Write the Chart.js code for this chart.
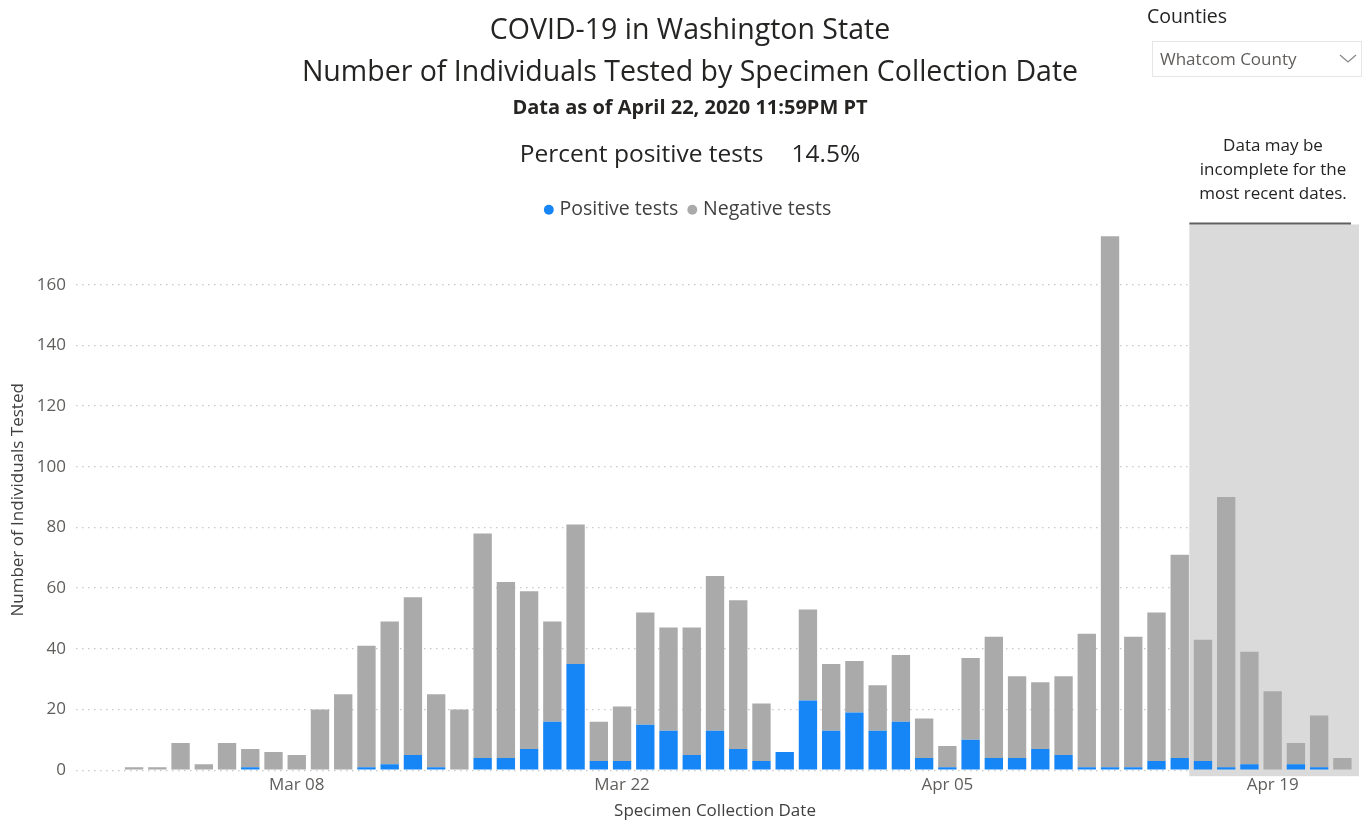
<!DOCTYPE html>
<html>
<head>
<meta charset="utf-8">
<script src="https://cdn.jsdelivr.net/npm/chart.js@4/dist/chart.umd.min.js"></script>
<style>
    body{
        margin:0;
        background:#ffffff;
        font-family:"Open Sans","Noto Sans",sans-serif;
        color:#252423;
    }
    #wrap{
        position:relative;
        width:1365px;
        height:825px;
    }
    #graficoTests{
        position:absolute;
        left:0;
        top:0;
    }
    .txt{
        position:absolute;
        white-space:nowrap;
    }
    .centro{
        left:190px;
        width:1000px;
        text-align:center;
    }
    #titulo1{ top:10px; font-size:28.5px; line-height:36px; }
    #titulo2{ top:52px; font-size:28.5px; line-height:36px; }
    #fecha{ top:94px; font-size:20px; line-height:26px; font-weight:700; }
    #porcentaje{ top:137px; font-size:24.5px; line-height:32px; }
    #porcentaje span{ margin-left:28px; }
    #condados{ left:1147px; top:3px; font-size:19.5px; line-height:26px; }
    #selector{
        position:absolute;
        left:1152px;
        top:41px;
        width:210px;
        height:36px;
        border:1px solid #e6e6e6;
        box-sizing:border-box;
    }
    #selector .txt{ left:7px; top:5px; font-size:17px; line-height:24px; color:#605e5c; }
    #selector svg{ position:absolute; right:4px; top:11px; }
    #aviso{
        left:1173px;
        width:200px;
        top:133px;
        font-size:17px;
        line-height:24px;
        text-align:center;
        color:#252423;
    }
</style>
</head>
<body>
<div id="wrap">
    <canvas id="graficoTests" width="1365" height="825"></canvas>

    <div class="txt centro" id="titulo1">COVID-19 in Washington State</div>
    <div class="txt centro" id="titulo2">Number of Individuals Tested by Specimen Collection Date</div>
    <div class="txt centro" id="fecha">Data as of April 22, 2020 11:59PM PT</div>
    <div class="txt centro" id="porcentaje">Percent positive tests<span>14.5%</span></div>

    <div class="txt" id="condados">Counties</div>
    <div id="selector">
        <div class="txt">Whatcom County</div>
        <svg width="18" height="12" viewBox="0 0 18 12"><polyline points="1,2 9,9 17,2" fill="none" stroke="#8a8886" stroke-width="1.3"/></svg>
    </div>

    <div class="txt" id="aviso">Data may be<br>incomplete for the<br>most recent dates.</div>
</div>

<script>

// Data

const fechas = [
    "Feb 28","Feb 29",
    "Mar 01","Mar 02","Mar 03","Mar 04","Mar 05","Mar 06","Mar 07","Mar 08","Mar 09","Mar 10",
    "Mar 11","Mar 12","Mar 13","Mar 14","Mar 15","Mar 16","Mar 17","Mar 18","Mar 19","Mar 20",
    "Mar 21","Mar 22","Mar 23","Mar 24","Mar 25","Mar 26","Mar 27","Mar 28","Mar 29","Mar 30","Mar 31",
    "Apr 01","Apr 02","Apr 03","Apr 04","Apr 05","Apr 06","Apr 07","Apr 08","Apr 09","Apr 10",
    "Apr 11","Apr 12","Apr 13","Apr 14","Apr 15","Apr 16","Apr 17","Apr 18","Apr 19","Apr 20",
    "Apr 21","Apr 22"
];

const positivos = [
    null,null,
    0,0,0,0,0,1,0,0,0,0,
    1,2,5,1,0,4,4,7,16,35,
    3,3,15,13,5,13,7,3,6,23,13,
    19,13,16,4,1,10,4,4,7,5,
    1,1,1,3,4,3,1,2,0,2,
    1,0
];

const negativos = [
    null,null,
    1,1,9,2,9,6,6,5,20,25,
    40,47,52,24,20,74,58,52,33,46,
    13,18,37,34,42,51,49,19,0,30,22,
    17,15,22,13,7,27,40,27,22,26,
    44,175,43,49,67,40,89,37,26,7,
    17,4
];

const etiquetasX = ["Mar 08","Mar 22","Apr 05","Apr 19"];

const etiquetasY = [0,20,40,60,80,100,120,140,160];

// first date of the "data may be incomplete" band
const incompletoDesde = "Apr 16";

const fuente = "'Open Sans','Noto Sans',sans-serif";


// Shaded band behind the latest dates

const bandaIncompleta = {

    id:"bandaIncompleta",

    beforeDatasetsDraw(chart){

        const {ctx, chartArea, scales} = chart;

        const x = scales.x;

        const i = fechas.indexOf(incompletoDesde);

        const paso = x.getPixelForValue(1) - x.getPixelForValue(0);

        const izq = x.getPixelForValue(i) - paso / 2 - 2;

        const der = chartArea.right + 5;

        const arriba = chartArea.top - 5;

        const abajo = chartArea.bottom + 6;

        ctx.save();

        ctx.fillStyle = "#dadada";
        ctx.fillRect(izq, arriba, der - izq, abajo - arriba);

        ctx.strokeStyle = "#5f5f5f";
        ctx.lineWidth = 2;
        ctx.beginPath();
        ctx.moveTo(izq, arriba - 1);
        ctx.lineTo(der - 8, arriba - 1);
        ctx.stroke();

        ctx.restore();

    }

};


// Chart

const ctx = document.getElementById("graficoTests");

new Chart(ctx,{

    type:"bar",

    data:{

        labels:fechas,

        datasets:[
            {
                label:"Positive tests",
                data:positivos,
                backgroundColor:"#1685f6",
                barPercentage:0.79,
                categoryPercentage:1
            },
            {
                label:"Negative tests",
                data:negativos,
                backgroundColor:"#aaaaaa",
                barPercentage:0.79,
                categoryPercentage:1
            }
        ]

    },

    plugins:[bandaIncompleta],

    options:{

        responsive:false,

        animation:false,

        layout:{
            padding:{
                top:187,
                right:11,
                bottom:0,
                left:25
            }
        },

        plugins:{

            legend:{

                position:"top",

                labels:{
                    usePointStyle:true,
                    pointStyle:"circle",
                    boxWidth:2,
                    boxHeight:7,
                    padding:13,
                    color:"#404040",
                    font:{
                        family:fuente,
                        size:19.5
                    }
                }

            },

            tooltip:{
                enabled:false
            }

        },

        scales:{

            x:{

                stacked:true,

                grid:{
                    display:false,
                    drawTicks:false
                },

                border:{
                    display:false
                },

                ticks:{
                    autoSkip:false,
                    maxRotation:0,
                    padding:5,
                    color:"#605e5c",
                    font:{
                        family:fuente,
                        size:17
                    },
                    callback:function(v){

                        const l = this.getLabelForValue(v);

                        return etiquetasX.includes(l) ? l : "";

                    }
                },

                title:{
                    display:true,
                    text:"Specimen Collection Date",
                    color:"#404040",
                    padding:{ top:0, bottom:4 },
                    font:{
                        family:fuente,
                        size:17
                    }
                }

            },

            y:{

                stacked:true,

                min:0,

                max:178.2,

                afterFit(scale){
                    scale.width = 51;
                },

                afterBuildTicks(scale){
                    scale.ticks = etiquetasY.map(v => ({ value:v }));
                },

                grid:{
                    color:"#c8c8c8",
                    lineWidth:1.3,
                    drawTicks:false
                },

                border:{
                    display:false,
                    dash:[1.5,4.5]
                },

                ticks:{
                    padding:10,
                    color:"#605e5c",
                    font:{
                        family:fuente,
                        size:17
                    }
                },

                title:{
                    display:true,
                    text:"Number of Individuals Tested",
                    color:"#404040",
                    padding:{ top:-17, bottom:0 },
                    font:{
                        family:fuente,
                        size:17
                    }
                }

            }

        }

    }

});

</script>
</body>
</html>
